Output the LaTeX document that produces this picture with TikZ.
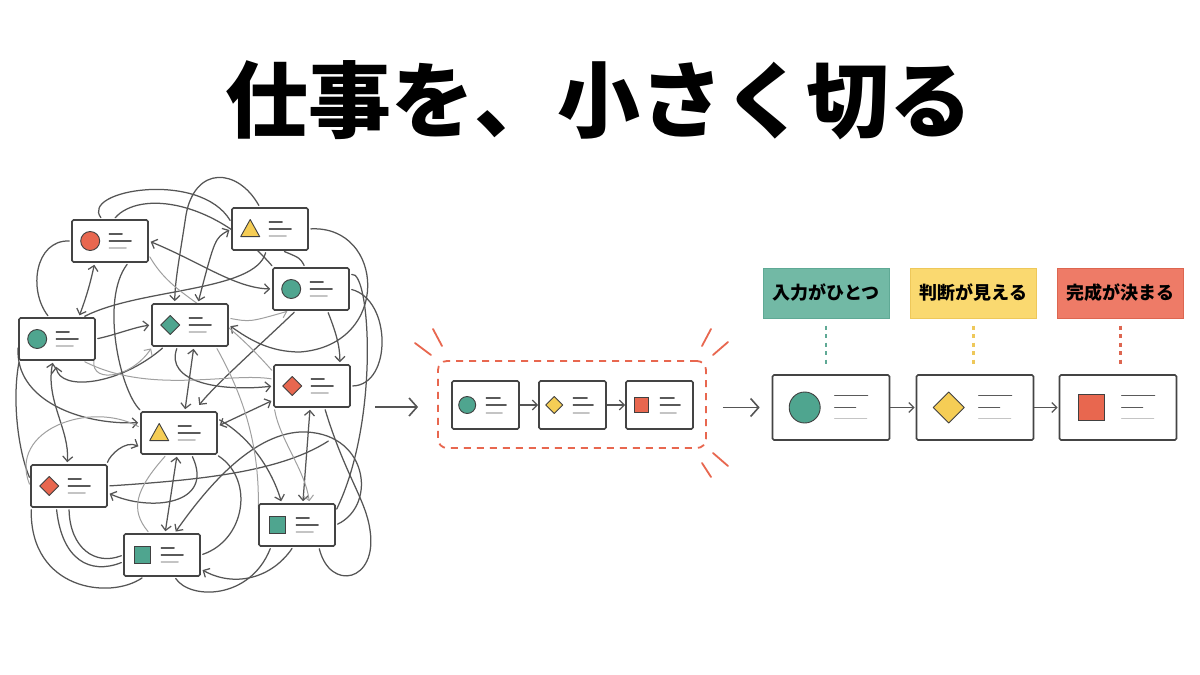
\documentclass[tikz,border=0pt]{standalone}
\usepackage{fontspec}
\newfontfamily\cjk{Noto Sans CJK JP}
\usetikzlibrary{arrows.meta,backgrounds,calc}
\definecolor{tealc}{HTML}{4FA58F}
\definecolor{yelc}{HTML}{F5CD55}
\definecolor{redc}{HTML}{E8674F}
\definecolor{tealL}{HTML}{72B9A5}
\definecolor{yelL}{HTML}{FAD970}
\definecolor{redL}{HTML}{EE7B67}
\definecolor{tealB}{HTML}{5FA995}
\definecolor{yelB}{HTML}{EEC85A}
\definecolor{redB}{HTML}{DD6650}
\definecolor{cardc}{HTML}{444444}
\definecolor{tangc}{HTML}{555555}
\definecolor{tanglc}{HTML}{A0A0A0}
\definecolor{txtd}{HTML}{5A5A5A}
\definecolor{txtl}{HTML}{C4C4C4}
\tikzset{
  card/.style={draw=cardc, line width=1.6pt, fill=white, rounded corners=1.5pt, inner sep=0pt},
  shapeline/.style={draw=black!75, line width=0.9pt},
  txd/.style={draw=txtd, line width=1.1pt, line cap=round},
  txl/.style={draw=txtl, line width=1.1pt, line cap=round},
  tl/.style={draw=tangc, line width=1.25pt, line cap=round, shorten >=2pt, shorten <=2pt},
  tll/.style={draw=tanglc, line width=1pt, line cap=round, shorten >=2pt, shorten <=2pt},
  sarr/.style={draw=tangc, line width=1.3pt, -{Straight Barb[length=5pt,width=10pt]}},
  barr/.style={draw=tangc, line width=1.6pt, -{Straight Barb[length=8pt,width=18pt]}},
  labbox/.style={minimum width=126pt, minimum height=50pt, inner sep=0pt, line width=1pt,
    font=\cjk\bfseries\fontsize{18}{20}\selectfont},
  dots/.style={line width=2.6pt, dash pattern=on 4pt off 4.5pt, shorten <=7pt, shorten >=10pt},
  burst/.style={draw=redc, line width=1.8pt, line cap=round},
  >={Straight Barb[length=5pt,width=10pt]}
}
\newcommand\shpC[4]{\filldraw[shapeline,fill=#4] (#1,#2) circle[radius=#3];}
\newcommand\shpD[4]{\filldraw[shapeline,fill=#4,line join=round] ({#1-#3},#2) -- (#1,{#2-#3}) -- ({#1+#3},#2) -- (#1,{#2+#3}) -- cycle;}
\newcommand\shpT[4]{\filldraw[shapeline,fill=#4,line join=round] ({#1-#3},{#2+0.8*#3}) -- (#1,{#2-#3}) -- ({#1+#3},{#2+0.8*#3}) -- cycle;}
\newcommand\shpS[4]{\filldraw[shapeline,fill=#4] ({#1-0.85*#3},{#2-0.85*#3}) rectangle ({#1+0.85*#3},{#2+0.85*#3});}
% tangle card: name x y shape color
\newcommand\tcard[5]{%
  \node[card,minimum width=76pt,minimum height=42pt] (#1) at (#2,#3) {};
  \begin{scope}[shift={(#1.west)}]
    \csname shp#4\endcsname{19}{0}{9.5}{#5}
    \draw[txd] (38,-7) -- (51,-7);
    \draw[txd] (38,0) -- (60,0);
    \draw[txl] (38,7) -- (55,7);
  \end{scope}}
% middle card
\newcommand\mcard[5]{%
  \node[card,minimum width=67pt,minimum height=48pt] (#1) at (#2,#3) {};
  \begin{scope}[shift={(#1.west)}]
    \csname shp#4\endcsname{16}{0}{8.5}{#5}
    \draw[txd] (35,-7) -- (49,-7);
    \draw[txd] (35,0) -- (55,0);
    \draw[txl] (35,8) -- (51,8);
  \end{scope}}
% big card
\newcommand\bcard[5]{%
  \node[card,minimum width=117pt,minimum height=65pt] (#1) at (#2,#3) {};
  \begin{scope}[shift={(#1.west)}]
    \csname shp#4\endcsname{33}{0}{15.5}{#5}
    \draw[txd] (63,-12) -- (96,-12);
    \draw[txd] (63,0) -- (84,0);
    \draw[txl] (63,11) -- (95,11);
  \end{scope}}
\begin{document}
\begin{tikzpicture}[x=1pt,y=-1pt]
\useasboundingbox (0,0) rectangle (1200,675);
\begin{scope}[on background layer]
  \fill[white] (0,0) rectangle (1200,675);
\end{scope}

% title
\node[font=\cjk\bfseries\fontsize{83}{90}\selectfont] (title) at (599,100) {仕事を、小さく切る};

% ---------- tangle cards ----------
\tcard{B1}{110}{241}{C}{redc}
\tcard{B2}{270}{229}{T}{yelc}
\tcard{B3}{311}{289}{C}{tealc}
\tcard{B4}{57}{339}{C}{tealc}
\tcard{B5}{190}{325}{D}{tealc}
\tcard{B6}{312}{386}{D}{redc}
\tcard{B7}{179}{433}{T}{yelc}
\tcard{B8}{69}{486}{D}{redc}
\tcard{B9}{297}{525}{S}{tealc}
\tcard{B10}{162}{555}{S}{tealc}

\begin{scope}[on background layer]
  % double arrows
  \draw[tl,<->] (B1.-125) to[bend left=4] (B4.45);
  \draw[tl,<->] (B1.east) .. controls (200,262) and (235,288) .. (B3.west);
  \draw[tl,<->] (B2.west) .. controls (215,238) .. (B5.70);
  \draw[tl,<->] (B5.-80) -- (B7.75);
  \draw[tl,<->] (B7.-95) -- (B10.82);
  \draw[tl,<->] (B6.-95) -- (B9.75);
  \draw[tl,<->] (B7.10) -- (B6.200);
  \draw[tl,<->] (B4.-100) .. controls (45,400) and (70,430) .. (B8.95);
  % single arrows
  \draw[tl,->] (B4.east) .. controls (115,335) and (135,327) .. (B5.west);
  \draw[tl,->] (B3.-53) .. controls (335,330) and (340,345) .. (B6.38);
  \draw[tl,->] (B2.east) .. controls (385,225) and (392,345) .. (300,352) .. controls (270,352) and (250,340) .. (B5.east);
  \draw[tl] (B3.east) .. controls (392,300) and (392,385) .. (B6.east);
  \draw[tll,->] (B5.10) .. controls (250,322) .. (B3.-135);
  \draw[tl,->,shorten >=8pt] (B3.-125) .. controls (260,345) and (215,385) .. (B7.55);
  \draw[tl,->,shorten >=6pt] (B5.-140) .. controls (120,385) and (60,392) .. (B4.-95);
  \draw[tl,->] (B4.190) .. controls (15,400) and (80,425) .. (B7.165);
  \draw[tl,->] (B8.30) .. controls (110,455) and (125,440) .. (B7.200);
  \draw[tl] (B8.east) .. controls (200,480) and (280,472) .. (330,440);
  \draw[tl,->] (B7.-60) .. controls (215,505) and (150,512) .. (B8.-10);
  \draw[tl,->] (B9.-100) .. controls (272,578) and (235,588) .. (B10.-20);
  \draw[tl,->] (B7.20) .. controls (250,437) and (272,470) .. (B9.125);
  \draw[tl] (B8.-90) .. controls (70,548) and (95,566) .. (B10.west);
  \draw[tl] (B10.east) .. controls (245,540) and (255,480) .. (B7.-30);
  \draw[tl] (B1.west) .. controls (35,240) and (28,290) .. (B4.110);
  \draw[tl] (B4.-150) .. controls (12,400) and (18,450) .. (B8.170);
  \draw[tl] (B1.80) .. controls (140,190) and (215,200) .. (B3.150);
  \draw[tl,->] (B2.115) .. controls (238,168) and (195,165) .. (186,215) .. controls (180,255) and (175,280) .. (B5.125);
  \draw[tl] (B4.40) .. controls (140,288) and (255,292) .. (B2.-100);
  \draw[tl,->] (B5.-120) .. controls (165,382) and (220,392) .. (B6.west);
  \draw[tll,->] (B4.-20) .. controls (85,385) and (130,380) .. (B5.-150);
  \draw[tl] (B1.-50) .. controls (100,300) and (120,390) .. (B7.150);
  \draw[tll] (B8.west) .. controls (8,430) and (90,400) .. (B7.172);
  \draw[tl,->] (B9.east) .. controls (378,505) and (368,430) .. (300,432) .. controls (250,435) and (205,490) .. (B10.60);
  \draw[tl] (B9.-45) .. controls (330,592) and (378,582) .. (370,530) .. controls (366,500) and (345,475) .. (B6.-60);
  \draw[tl] (B10.190) .. controls (90,575) and (62,560) .. (B8.-120);
  \draw[tll,->] (B6.-150) .. controls (280,440) and (305,470) .. (B9.60);
  \draw[tll] (B7.-120) .. controls (135,490) and (130,510) .. (B10.120);
  \draw[tll] (B6.170) .. controls (230,372) and (150,395) .. (B4.-40);
  \draw[tl] (B2.-60) .. controls (300,258) .. (B3.105);
  \draw[tll] (B1.-20) .. controls (175,300) and (210,300) .. (B6.160);
  \draw[tl] (B10.-130) .. controls (110,600) and (30,590) .. (B8.-150);
  \draw[tl] (B9.-140) .. controls (250,600) and (190,600) .. (B10.-60);
  \draw[tll] (B5.-40) .. controls (240,390) and (260,440) .. (B9.160);
  \draw[tl] (B3.20) .. controls (370,270) and (380,420) .. (B9.20);
  \draw[tl] (B1.110) .. controls (80,190) and (200,170) .. (B2.170);
\end{scope}

% ---------- middle group ----------
\node[draw=redc, line width=1.8pt, dash pattern=on 7pt off 6pt, rounded corners=9pt,
      minimum width=268pt, minimum height=87pt, inner sep=0pt] (grp) at (572,404.5) {};
\mcard{M1}{485.5}{405}{C}{tealc}
\mcard{M2}{572.5}{405}{D}{yelc}
\mcard{M3}{659.5}{405}{S}{redc}
\draw[sarr] (M1.east) -- (M2.west);
\draw[sarr] (M2.east) -- (M3.west);
\coordinate (inS) at (375,407);
\draw[barr, shorten >=19pt] (inS) -- (grp.west |- inS);
% burst marks
\draw[burst] (433,329) -- (442,346);
\draw[burst] (415,343) -- (431,355);
\draw[burst] (711,329) -- (702,346);
\draw[burst] (728,342) -- (713,355);
\draw[burst] (713,453) -- (728,466);
\draw[burst] (702,463) -- (711,477);

% ---------- right chain ----------
\bcard{R1}{831}{407.5}{C}{tealc}
\bcard{R2}{975}{407.5}{D}{yelc}
\bcard{R3}{1118}{407.5}{S}{redc}
\draw[barr, shorten <=16pt, shorten >=12pt] (grp.east |- R1.west) -- (R1.west);
\draw[sarr, shorten >=1pt] (R1.east) -- (R2.west);
\draw[sarr, shorten >=1pt] (R2.east) -- (R3.west);

\node[labbox, fill=tealL, draw=tealB] (L1) at (826,293) {入力がひとつ};
\node[labbox, fill=yelL, draw=yelB] (L2) at (973.5,293) {判断が見える};
\node[labbox, fill=redL, draw=redB] (L3) at (1120.5,293) {完成が決まる};
\draw[dots, draw=tealB] (L1.south) -- (L1.south |- R1.north);
\draw[dots, draw=yelB] (L2.south) -- (L2.south |- R2.north);
\draw[dots, draw=redB] (L3.south) -- (L3.south |- R3.north);
\end{tikzpicture}
\end{document}
